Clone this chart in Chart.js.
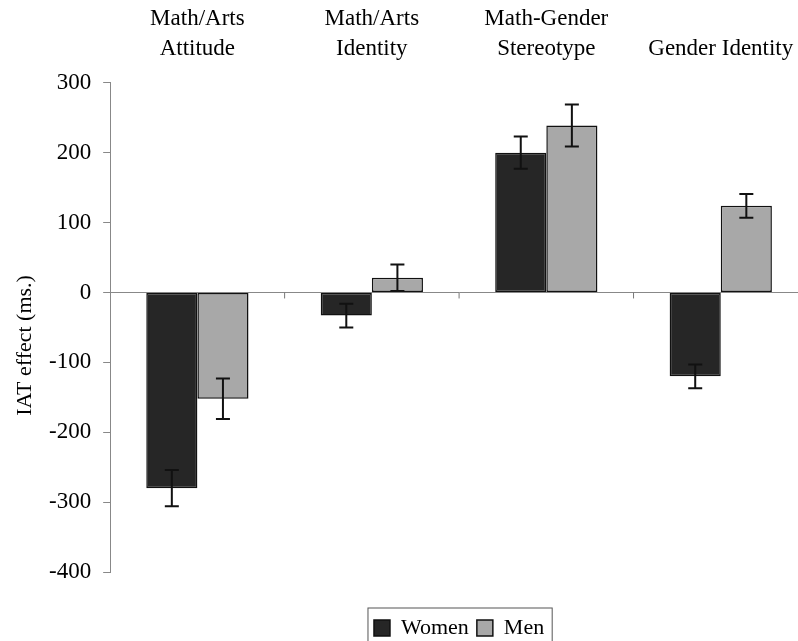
<!DOCTYPE html>
<html lang="en">
<head>
    <title>IAT effects</title>
    <script src="https://cdn.jsdelivr.net/npm/chart.js@4"></script>
    <style>
        body { margin: 0; background: #fff; overflow: hidden; }
        #wrap { width: 808px; height: 641px; }
    </style>
</head>
<body>
    <div id="wrap"><canvas id="myChart"></canvas></div>

    <script>
        var categories = [["Math/Arts", "Attitude"], ["Math/Arts", "Identity"], ["Math-Gender", "Stereotype"], "Gender Identity"];
        var women = [-280, -33, 200, -120];
        var men = [-152, 21, 239, 124];
        var womenErr = [26, 17, 23, 17];
        var menErr = [29, 19, 30, 17];
        var yTicks = [-400, -300, -200, -100, 0, 100, 200, 300];
        var yTitle = "IAT effect (ms.)";

        var serif = "'Liberation Serif', 'Times New Roman', serif";

        // error bars drawn from the y scale
        var errorBars = {
            id: "errorBars",
            afterDatasetsDraw: function (chart) {
                var ctx = chart.ctx, y = chart.scales.y;
                var errs = [womenErr, menErr];
                ctx.save();
                ctx.strokeStyle = "#111";
                ctx.lineWidth = 2;
                chart.data.datasets.forEach(function (ds, d) {
                    chart.getDatasetMeta(d).data.forEach(function (bar, i) {
                        var v = ds.data[i], e = errs[d][i];
                        var y1 = y.getPixelForValue(v + e), y2 = y.getPixelForValue(v - e);
                        ctx.beginPath();
                        ctx.moveTo(bar.x, y1); ctx.lineTo(bar.x, y2);
                        ctx.moveTo(bar.x - 7, y1); ctx.lineTo(bar.x + 7, y1);
                        ctx.moveTo(bar.x - 7, y2); ctx.lineTo(bar.x + 7, y2);
                        ctx.stroke();
                    });
                });
                ctx.restore();
            }
        };

        // legend centred under the plot, not the canvas
        var legendShift = {
            id: "legendShift",
            afterLayout: function (chart) {
                var lg = chart.legend, a = chart.chartArea;
                var dx = (a.left + a.right) / 2 - (lg.left + lg.right) / 2;
                var dy = 609 - lg.top;
                lg.left += dx; lg.right += dx;
                lg.top += dy; lg.bottom += dy;
            }
        };

        // zero-line ticks, legend frame, y title
        var extras = {
            id: "extras",
            afterDraw: function (chart) {
                var ctx = chart.ctx, x = chart.scales.x, y = chart.scales.y, a = chart.chartArea;
                var y0 = y.getPixelForValue(0);
                ctx.save();
                ctx.strokeStyle = "#777";
                ctx.lineWidth = 1;
                for (var i = 1; i < categories.length; i++) {
                    var px = (x.getPixelForValue(i - 1) + x.getPixelForValue(i)) / 2;
                    ctx.beginPath();
                    ctx.moveTo(px, y0); ctx.lineTo(px, y0 + 6);
                    ctx.stroke();
                }
                var lg = chart.legend;
                var cx = (lg.left + lg.right) / 2, w = lg.lineWidths[0];
                ctx.strokeStyle = "#555";
                ctx.strokeRect(cx - w / 2 - 2, lg.top - 1, w + 6, 60);

                ctx.fillStyle = "#000";
                ctx.font = "22px " + serif;
                ctx.textAlign = "center";
                ctx.textBaseline = "middle";
                ctx.translate(25, (a.top + a.bottom) / 2 + 18);
                ctx.rotate(-Math.PI / 2);
                ctx.fillText(yTitle, 0, 0);
                ctx.restore();
            }
        };

        new Chart("myChart", {
            type: "bar",
            data: {
                labels: categories,
                datasets: [
                    {
                        label: "Women",
                        data: women,
                        backgroundColor: "#262626",
                        borderColor: "#111",
                        borderWidth: 1.5,
                        borderSkipped: false
                    },
                    {
                        label: "Men",
                        data: men,
                        backgroundColor: "#a8a8a8",
                        borderColor: "#111",
                        borderWidth: 1.5,
                        borderSkipped: false
                    }
                ]
            },
            options: {
                responsive: true,
                maintainAspectRatio: false,
                animation: false,
                layout: { padding: { top: -7, left: 7, right: 0, bottom: 29 } },
                datasets: { bar: { barPercentage: 1, categoryPercentage: 0.586 } },
                plugins: {
                    tooltip: { enabled: false },
                    legend: {
                        position: "bottom",
                        labels: {
                            color: "#000",
                            font: { family: serif, size: 22 },
                            boxWidth: 16,
                            boxHeight: 16,
                            padding: 8
                        }
                    }
                },
                scales: {
                    x: {
                        position: "top",
                        grid: { display: false },
                        border: { display: false },
                        ticks: {
                            color: "#000",
                            font: { family: serif, size: 23, lineHeight: 1.3 },
                            maxRotation: 0,
                            padding: 11
                        }
                    },
                    y: {
                        min: -400,
                        max: 300,
                        afterBuildTicks: function (axis) {
                            axis.ticks = yTicks.map(function (v) { return { value: v }; });
                        },
                        border: { display: true, color: "#888", width: 1 },
                        grid: {
                            color: function (c) { return c.tick && c.tick.value === 0 ? "#888" : "rgba(0,0,0,0)"; },
                            tickColor: "#888",
                            tickLength: 7
                        },
                        ticks: {
                            color: "#000",
                            font: { family: serif, size: 23 },
                            padding: 12
                        },
                        title: {
                            display: true,
                            text: yTitle,
                            color: "rgba(0,0,0,0)",
                            font: { family: serif, size: 20 },
                            padding: 3
                        }
                    }
                }
            },
            plugins: [errorBars, legendShift, extras]
        });
    </script>
</body>
</html>
